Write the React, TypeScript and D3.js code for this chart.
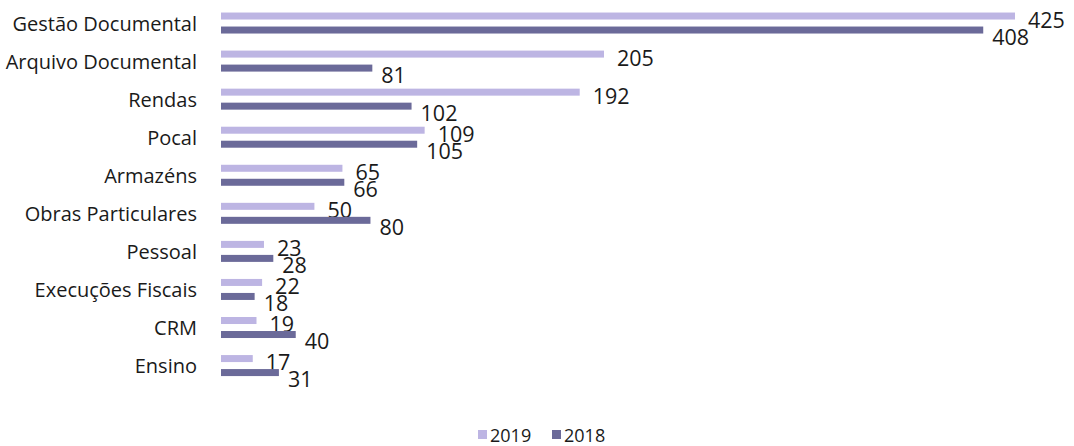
import React from "react";
import * as d3 from "d3";

const categories = [
  "Gestão Documental",
  "Arquivo Documental",
  "Rendas",
  "Pocal",
  "Armazéns",
  "Obras Particulares",
  "Pessoal",
  "Execuções Fiscais",
  "CRM",
  "Ensino",
];
const values2019 = [425, 205, 192, 109, 65, 50, 23, 22, 19, 17];
const values2018 = [408, 81, 102, 105, 66, 80, 28, 18, 40, 31];
const seriesNames = ["2019", "2018"];
const seriesColors = ["#bdb5e3", "#6b6a99"];

const W = 1074;
const H = 446;
const FONT = "'Open Sans', Lato, sans-serif";

export default function App() {
  const x = d3.scaleLinear().domain([0, 425]).range([221, 1015]);
  const y = d3.scaleBand<string>().domain(categories).range([4, 384.6]);
  const barH = 7;
  const off = 7;
  const series = [values2019, values2018];

  return (
    <svg
      width={W}
      height={H}
      style={{ position: "absolute", left: 0, top: 0, background: "#fff" }}
      fontFamily={FONT}
    >
      {categories.map((c, i) => {
        const cy = (y(c) as number) + y.bandwidth() / 2;
        return (
          <g key={c}>
            <text
              x={197}
              y={cy}
              textAnchor="end"
              dominantBaseline="central"
              fontSize={20}
              fill="#1a1a1a"
            >
              {c}
            </text>
            {series.map((vals, s) => {
              const by = cy + (s === 0 ? -off : off) - barH / 2;
              return (
                <g key={s}>
                  <rect
                    x={x(0)}
                    y={by}
                    width={x(vals[i]) - x(0)}
                    height={barH}
                    fill={seriesColors[s]}
                  />
                  <text
                    x={x(vals[i]) + (s === 0 ? 13 : 9)}
                    y={by + barH / 2 + (s === 0 ? 3 : 6)}
                    dominantBaseline="central"
                    fontSize={21.5}
                    fill="#1a1a1a"
                  >
                    {vals[i]}
                  </text>
                </g>
              );
            })}
          </g>
        );
      })}
      {seriesNames.map((n, s) => {
        const lx = 478 + s * 74;
        return (
          <g key={n}>
            <rect x={lx} y={430} width={9} height={9} fill={seriesColors[s]} />
            <text
              x={lx + 12}
              y={435}
              dominantBaseline="central"
              fontSize={18}
              fill="#1a1a1a"
            >
              {n}
            </text>
          </g>
        );
      })}
    </svg>
  );
}
